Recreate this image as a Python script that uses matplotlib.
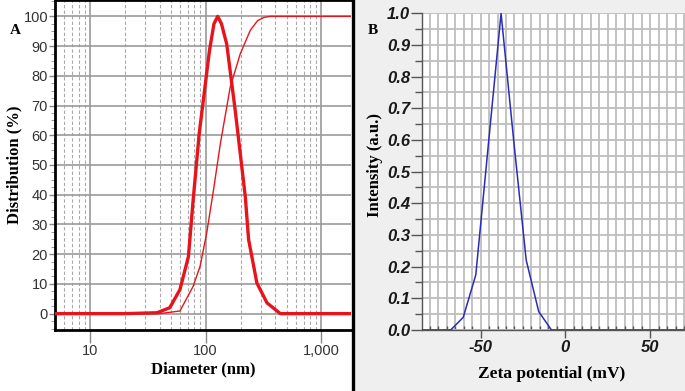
import matplotlib
matplotlib.use("Agg")
import matplotlib.pyplot as plt
from matplotlib.ticker import FixedLocator, MultipleLocator, FuncFormatter
from matplotlib.patches import Rectangle
from matplotlib.lines import Line2D

# ---- Panel A data (diameter in nm, distribution %) ----
diam_dist = [5, 20, 38, 49, 60, 71, 77.5, 88, 108, 118, 127, 137, 152, 180, 220, 235, 277, 339, 442, 800, 2000]
dist_vals = [0, 0, 0.3, 2.0, 8.1, 19.2, 37.0, 60.6, 88.6, 97.5, 100.0, 97.5, 90.7, 68.4, 39.3, 24.9, 10.3, 3.6, 0, 0, 0]

diam_cum = [5, 20, 40, 60, 78, 89.6, 102, 117, 134, 163, 199, 243, 280, 316, 360, 800, 2000]
cum_vals = [0, 0, 0, 0.9, 9.2, 16.0, 27.0, 41.7, 57.2, 76.2, 87.4, 95.3, 98.5, 99.6, 100, 100, 100]

a_xticks = [10, 100, 1000]
a_xticklabels = ["10", "100", "1,000"]
a_yticks = [0, 10, 20, 30, 40, 50, 60, 70, 80, 90, 100]

# ---- Panel B data (zeta potential mV, intensity a.u.) ----
zeta = [-90, -82.4, -75.0, -67.6, -60.2, -52.8, -45.4, -37.9, -30.5, -23.1, -15.7, -8.2, -0.8, 6.6, 14.0, 21.4, 28.8, 36.2, 43.6, 51.0, 58.4, 65.8, 73.2]
intensity = [0, 0, 0, 0, 0.04, 0.174, 0.585, 1.0, 0.6, 0.221, 0.058, 0, 0, 0, 0, 0, 0, 0, 0, 0, 0, 0, 0]

b_xticks = [-50, 0, 50]
b_yticks = [0.0, 0.1, 0.2, 0.3, 0.4, 0.5, 0.6, 0.7, 0.8, 0.9, 1.0]

W, H = 685, 391
fig = plt.figure(figsize=(W / 100, H / 100), dpi=100)
fig.patch.set_facecolor("white")

# gray background for panel B region
fig.patches.append(Rectangle((354 / W, 0), 1 - 354 / W, 1, transform=fig.transFigure,
                             facecolor="#efefef", edgecolor="none", zorder=-5))

serif = ["Liberation Serif", "DejaVu Serif"]
sans = ["Liberation Sans", "DejaVu Sans"]

# ---------------- Panel A ----------------
axA = fig.add_axes([55 / W, 1 - 330 / H, 296 / W, 330 / H])
axA.set_facecolor("white")
axA.set_xscale("log")
axA.set_xlim(5, 1800)
axA.set_ylim(-5.5, 105.5)

axA.xaxis.set_major_locator(FixedLocator(a_xticks))
axA.xaxis.set_major_formatter(FuncFormatter(lambda v, p: a_xticklabels[a_xticks.index(int(round(v)))] if int(round(v)) in a_xticks else ""))
minors = [m * 10 ** e for e in range(0, 4) for m in range(2, 10)]
axA.xaxis.set_minor_locator(FixedLocator(minors))
axA.xaxis.set_minor_formatter(FuncFormatter(lambda v, p: ""))
axA.yaxis.set_major_locator(FixedLocator(a_yticks))
axA.yaxis.set_minor_locator(MultipleLocator(2.5))

axA.grid(which="major", axis="both", color="#9a9a9a", linewidth=1.2, linestyle="-")
axA.grid(which="minor", axis="x", color="#a8a8a8", linewidth=0.8, linestyle=(0, (3, 2)))

axA.plot(diam_cum, cum_vals, color="#e8141b", linewidth=1.0, zorder=3)
axA.plot(diam_dist, dist_vals, color="#e8141b", linewidth=2.4, zorder=4)

for s in ["left", "bottom", "top"]:
    axA.spines[s].set_color("black")
    axA.spines[s].set_linewidth(2.0)
axA.spines["right"].set_visible(False)

axA.tick_params(axis="y", which="major", labelsize=10.5, labelcolor="#333333",
                color="#888888", length=4, width=1.0, direction="out", pad=1)
axA.tick_params(axis="x", which="major", labelsize=10.5, labelcolor="#333333",
                color="#888888", length=9, width=1.0, direction="out", pad=1)
axA.tick_params(axis="x", which="minor", length=0)
axA.tick_params(axis="y", which="minor", length=3, color="#888888", direction="out")
for lab in axA.get_xticklabels() + axA.get_yticklabels():
    lab.set_family(sans)

fig.text(10 / W, 1 - 30 / H, "A", fontsize=11, fontweight="bold", family=serif, ha="left", va="center")
fig.text(14 / W, 1 - 165 / H, "Distribution (%)", fontsize=12, fontweight="bold", family=serif,
         rotation=90, ha="center", va="center")
fig.text(203 / W, 1 - 369 / H, "Diameter (nm)", fontsize=12, fontweight="bold", family=serif,
         ha="center", va="center")

# separator line
fig.add_artist(Line2D([352.5 / W, 352.5 / W], [0, 1], transform=fig.transFigure,
                      color="black", linewidth=2.4))

# ---------------- Panel B ----------------
axB = fig.add_axes([422 / W, 1 - 330 / H, (W - 422) / W, (330 - 13.3) / H])
axB.set_facecolor("white")
axB.set_xlim(-84.5, 70.5)
axB.set_ylim(0, 1.0)
axB.xaxis.set_major_locator(FixedLocator(b_xticks))
axB.xaxis.set_minor_locator(MultipleLocator(5))
axB.yaxis.set_major_locator(FixedLocator(b_yticks))
axB.yaxis.set_minor_locator(MultipleLocator(0.05))
axB.yaxis.set_major_formatter(FuncFormatter(lambda v, p: f"{v:.1f}"))
axB.xaxis.set_major_formatter(FuncFormatter(lambda v, p: f"{int(round(v))}"))

axB.grid(which="both", axis="both", color="#bebebe", linewidth=1.3)
axB.plot(zeta, intensity, color="#2b2bb8", linewidth=1.1, zorder=3, clip_on=True)

for s in ["top", "right"]:
    axB.spines[s].set_visible(False)
axB.spines["left"].set_color("#555555")
axB.spines["bottom"].set_color("#555555")
axB.spines["left"].set_linewidth(1.0)
axB.spines["bottom"].set_linewidth(1.0)

axB.tick_params(axis="y", which="major", length=8, color="#555555", direction="out",
                labelsize=12, width=1.0, pad=0.5)
axB.tick_params(axis="y", which="minor", length=5, color="#555555", direction="out", width=1.0)
axB.tick_params(axis="x", which="major", length=6, color="#555555", direction="out",
                labelsize=12, width=1.0, pad=1)
axB.tick_params(axis="x", which="minor", length=3, color="#555555", direction="in", width=1.0)
for lab in axB.get_xticklabels() + axB.get_yticklabels():
    lab.set_family(sans)
    lab.set_fontweight("bold")
    lab.set_fontstyle("italic")
    lab.set_color("#1a1a1a")

fig.text(368 / W, 1 - 30 / H, "B", fontsize=11, fontweight="bold", family=serif, ha="left", va="center")
fig.text(375 / W, 1 - 165 / H, "Intensity (a.u.)", fontsize=12, fontweight="bold", family=serif,
         rotation=90, ha="center", va="center")
fig.text(552 / W, 1 - 374 / H, "Zeta potential (mV)", fontsize=12.5, fontweight="bold", family=serif,
         ha="center", va="center")

fig.savefig("out.png", dpi=100)
